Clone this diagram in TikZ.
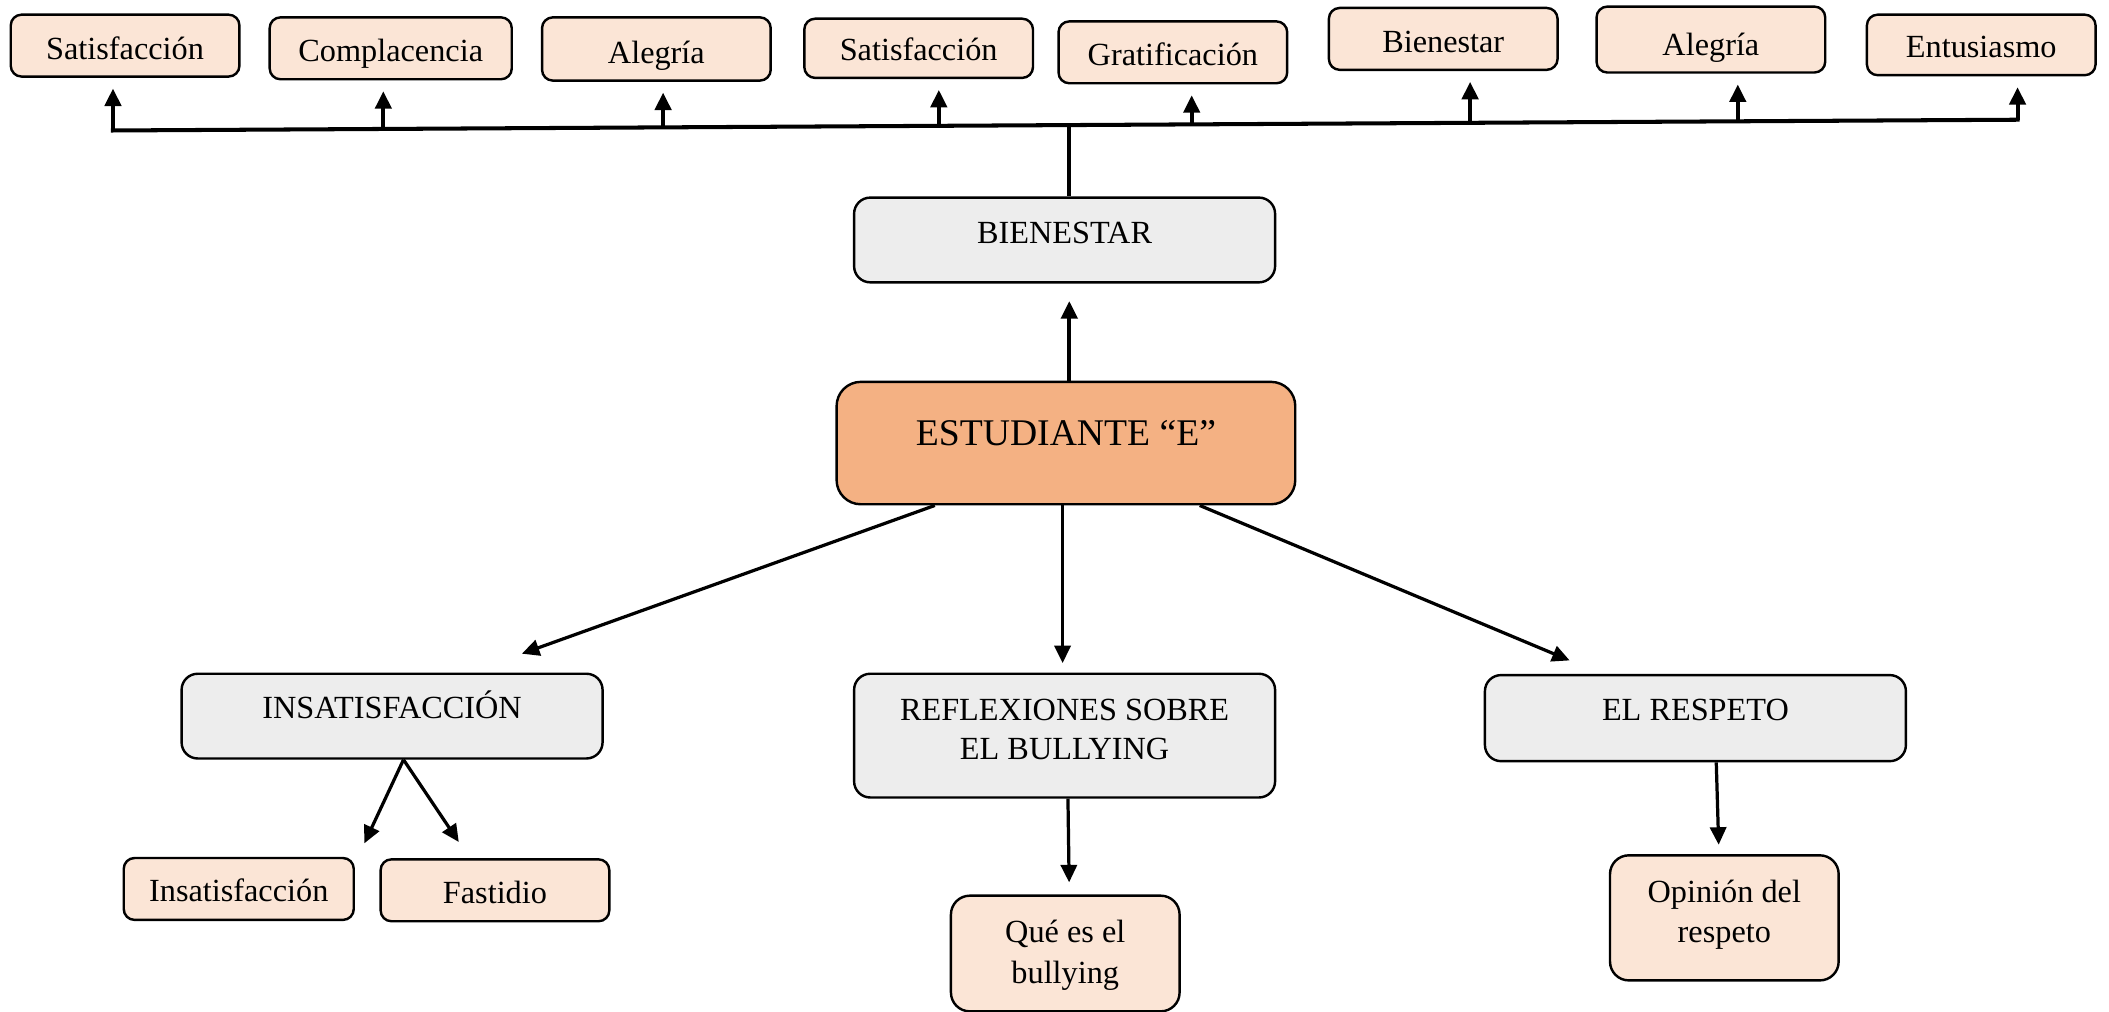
\documentclass[tikz,border=0pt]{standalone}
\usepackage{fontspec}
\setmainfont{Liberation Serif}
\usetikzlibrary{arrows.meta,calc}
\definecolor{peach}{HTML}{FBE5D6}
\definecolor{grayb}{HTML}{EDEDED}
\definecolor{orangeb}{HTML}{F4B183}
\newcommand\twol[2]{\begin{tabular}[t]{@{}c@{}}#1\\#2\end{tabular}}
\begin{document}
\begin{tikzpicture}[x=0.5pt,y=-0.5pt,
 base/.style={draw=black, line width=0.9pt, inner xsep=2pt, inner ysep=0pt, anchor=north},
 leaf/.style={base, fill=peach, rounded corners=4pt, minimum width=85pt, text depth=6.5pt, font=\fontsize{12}{15}\selectfont},
 mid/.style={base, fill=grayb, rounded corners=6pt, minimum width=156.5pt, font=\fontsize{12}{14.5}\selectfont},
 root/.style={base, fill=orangeb, rounded corners=9pt, minimum width=170.5pt, font=\fontsize{14}{17}\selectfont},
 bus/.style={line width=1.5pt},
 arr/.style={line width=1.5pt, -{Triangle[length=6.5pt,width=6pt]}},
 arrl/.style={line width=1.2pt, -{Triangle[length=6.5pt,width=6pt]}},
]
\useasboundingbox (0,0) rectangle (1568,752);

% top leaves
\node[leaf, text height=16.5pt] (b1) at (93,10) {Satisfacción};
\node[leaf, minimum width=90pt, text height=16.5pt] (b2) at (290.5,12) {Complacencia};
\node[leaf, text height=17pt] (b3) at (488,12) {Alegría};
\node[leaf, text height=15.5pt] (b4) at (683,13) {Satisfacción};
\node[leaf, text height=16.5pt] (b5) at (872,15) {Gratificación};
\node[leaf, text height=16.5pt] (b6) at (1073,5) {Bienestar};
\node[leaf, text height=18pt] (b7) at (1272,4) {Alegría};
\node[leaf, text height=16pt] (b8) at (1473,10) {Entusiasmo};

% main boxes
\node[mid, text height=17pt, text depth=14.5pt] (bien) at (791.5,146) {BIENESTAR};
\node[root, text height=23.5pt, text depth=22pt] (est) at (792.5,283) {ESTUDIANTE “E”};
\node[mid, text height=16.5pt, text depth=15pt] (ins) at (291.5,500) {INSATISFACCIÓN};
\node[mid, text height=17.5pt, text depth=28.5pt] (refl) at (791.5,500) {\twol{REFLEXIONES SOBRE}{EL BULLYING}};
\node[mid, text height=17pt, text depth=15pt] (resp) at (1260.5,501) {EL RESPETO};

% bottom leaves
\node[leaf, minimum width=85.5pt, text height=16pt, text depth=7pt] (s1) at (177.5,637) {Insatisfacción};
\node[leaf, text height=16.5pt] (s2) at (368,638) {Fastidio};
\node[leaf, rounded corners=7pt, text height=17.5pt, text depth=25.5pt] (que) at (792,665) {\twol{Qué es el}{bullying}};
\node[leaf, rounded corners=7pt, text height=17.5pt, text depth=29pt] (op) at (1282,635) {\twol{Opinión del}{respeto}};

% bus
\coordinate (bus1) at (84,97);
\coordinate (bus2) at (285,95.9);
\coordinate (bus3) at (493,94.7);
\coordinate (bus4) at (698,93.5);
\coordinate (busc) at (795,93);
\coordinate (bus5) at (886,92.5);
\coordinate (bus6) at (1093,91.3);
\coordinate (bus7) at (1292,90.2);
\coordinate (bus8) at (1500,89);

\draw[bus, line cap=rect] (bus1) -- (bus8);
\foreach \i in {1,...,8} {\draw[arr, shorten >=4pt] (bus\i) -- (bus\i |- b\i.south);}
\draw[bus] (busc) -- (busc |- bien.north);
\draw[arr, shorten >=6.5pt] (busc |- est.north) -- (busc |- bien.south);

% lower connectors
\draw[arrl] ($(est.south)+(-97.5,0)$) -- ($(ins.north)+(96.5,-14)$);
\draw[arrl, shorten >=3.5pt] ($(est.south)+(-2.5,0)$) -- ($(refl.north)+(-1.5,0)$);
\draw[arrl] ($(est.south)+(99.5,0)$) -- ($(resp.north)+(-93.5,-10)$);
\draw[arrl] ($(ins.south)+(8.5,0)$) -- ($(s1.north east)+(7,-10)$);
\draw[arrl] ($(ins.south)+(8.5,0)$) -- ($(s2.north west)+(59,-12)$);
\draw[arrl, shorten >=4.5pt] ($(refl.south)+(2.5,0)$) -- ($(que.north)+(3,0)$);
\draw[arrl, shorten >=3.5pt] ($(resp.south)+(15.5,0)$) -- ($(op.north)+(-4,0)$);
\end{tikzpicture}
\end{document}
